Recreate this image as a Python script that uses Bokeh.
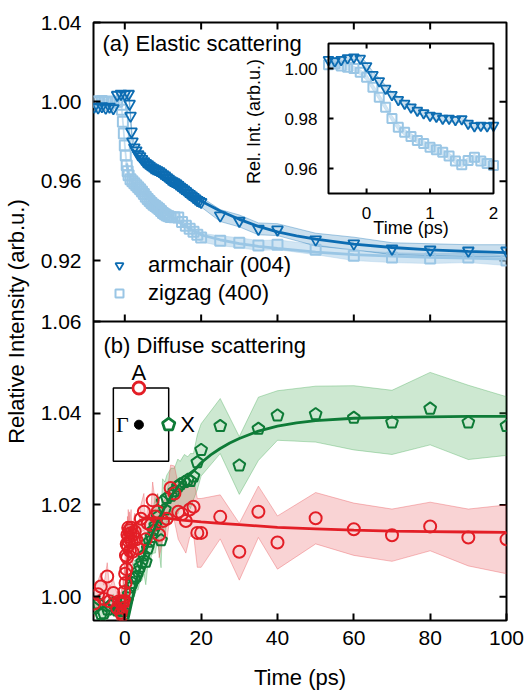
import math
from bokeh.plotting import figure
from bokeh.models import Range1d, LinearAxis, FixedTicker, Span, Legend, LegendItem
from bokeh.core.properties import value
from bokeh.embed import file_html
from bokeh.resources import INLINE

# ---------------- data ----------------
tick_x = [0, 20, 40, 60, 80, 100]
tick_top = [0.92, 0.96, 1.00, 1.04]
tick_bot = [1.00, 1.02, 1.04, 1.06]

# (a) elastic scattering, armchair (004)
arm_t = [-8, -7, -6, -5, -4, -3, -2, -1, 0, 1,
         1.25, 1.5, 1.75,
         2, 2.5, 3, 3.5, 4, 4.5, 5, 5.5, 6, 6.5, 7, 7.5, 8, 8.5, 9, 9.5, 10, 10.5, 11, 11.5,
         12, 12.5, 13, 13.5, 14, 14.5, 15, 15.5, 16, 16.5, 17, 17.5, 18, 18.5, 19, 19.5, 20,
         25, 30, 35, 40, 50, 60, 70, 80, 90, 100]
arm_v = [0.9975, 0.9972, 0.9978, 0.9970, 0.9975, 0.9968, 1.0035, 1.0040, 1.0038, 1.0040,
         0.9990, 0.9930, 0.9850,
         0.9800, 0.9770, 0.9755, 0.9735, 0.9725, 0.9712, 0.9700, 0.9692, 0.9685, 0.9678,
         0.9670, 0.9665, 0.9660, 0.9655, 0.9650, 0.9642, 0.9635, 0.9628, 0.9620, 0.9612,
         0.9605, 0.9600, 0.9595, 0.9588, 0.9580, 0.9572, 0.9565, 0.9558, 0.9550, 0.9542,
         0.9535, 0.9528, 0.9520, 0.9512, 0.9505, 0.9500, 0.9495,
         0.9427, 0.9400, 0.9360, 0.9356, 0.9306, 0.9286, 0.9260, 0.9255, 0.9250, 0.9250]
arm_e = [0.0015, 0.0015, 0.0015, 0.0015, 0.0015, 0.0015, 0.0015, 0.0015, 0.0015, 0.0015,
         0.0020, 0.0020, 0.0020,
         0.0025, 0.0025, 0.0025, 0.0025, 0.0025, 0.0025, 0.0025, 0.0025, 0.0025, 0.0025,
         0.0025, 0.0025, 0.0025, 0.0025, 0.0025, 0.0025, 0.0025, 0.0025, 0.0025, 0.0025,
         0.0025, 0.0025, 0.0025, 0.0025, 0.0025, 0.0025, 0.0025, 0.0025, 0.0025, 0.0025,
         0.0025, 0.0025, 0.0025, 0.0025, 0.0025, 0.0025, 0.0025,
         0.0030, 0.0030, 0.0030, 0.0030, 0.0032, 0.0032, 0.0030, 0.0030, 0.0030, 0.0030]
# (a) zigzag (400)
zig_t = [-8, -7, -6, -5, -4, -3, -2, -1,
         -0.75, -0.5, -0.25, 0, 0.25, 0.5, 0.75, 1,
         1.5, 2, 2.5, 3, 3.5, 4, 4.5, 5, 5.5, 6, 6.5, 7, 7.5, 8, 8.5, 9, 9.5, 10, 10.5, 11,
         11.5, 12,
         13, 14, 15, 16, 17, 18, 19, 20,
         25, 30, 35, 40, 50, 60, 70, 80, 90, 100]
zig_v = [1.0003, 0.9998, 1.0004, 0.9999, 1.0002, 0.9997, 1.0001, 0.9985,
         0.9960, 0.9900, 0.9840, 0.9780, 0.9730, 0.9680, 0.9650, 0.9630,
         0.9610, 0.9600, 0.9590, 0.9580, 0.9570, 0.9560, 0.9548, 0.9535, 0.9522, 0.9510,
         0.9500, 0.9490, 0.9482, 0.9475, 0.9468, 0.9460, 0.9450, 0.9440, 0.9433, 0.9427,
         0.9424, 0.9420,
         0.9418, 0.9417, 0.9395, 0.9376, 0.9360, 0.9345, 0.9330, 0.9316,
         0.9300, 0.9290, 0.9276, 0.9280, 0.9255, 0.9225, 0.9215, 0.9210, 0.9215, 0.9200]
zig_e = [0.0015, 0.0015, 0.0015, 0.0015, 0.0015, 0.0015, 0.0015, 0.0015,
         0.0030, 0.0030, 0.0030, 0.0030, 0.0030, 0.0030, 0.0030, 0.0030,
         0.0022, 0.0022, 0.0022, 0.0022, 0.0022, 0.0022, 0.0022, 0.0022, 0.0022, 0.0022,
         0.0022, 0.0022, 0.0022, 0.0022, 0.0022, 0.0022, 0.0022, 0.0022, 0.0022, 0.0022,
         0.0022, 0.0022,
         0.0022, 0.0022, 0.0022, 0.0022, 0.0022, 0.0022, 0.0022, 0.0022,
         0.0025, 0.0025, 0.0025, 0.0025, 0.0025, 0.0025, 0.0025, 0.0025, 0.0025, 0.0025]
arm_fit_t = [2, 3, 4, 5, 6, 8, 10, 12, 14, 16, 18, 20, 25, 30, 35, 40, 45, 50, 60, 70, 80, 90, 100]
arm_fit_v = [0.9760, 0.9735, 0.9712, 0.9692, 0.9675, 0.9645, 0.9617, 0.9590, 0.9565, 0.9542,
             0.9520, 0.9500, 0.9450, 0.9408, 0.9372, 0.9345, 0.9325, 0.9308, 0.9283, 0.9266,
             0.9254, 0.9246, 0.9240]
zig_fit_t = [0.5, 1, 2, 4, 6, 8, 10, 12, 14, 16, 18, 20, 25, 30, 35, 40, 50, 60, 70, 80, 90, 100]
zig_fit_v = [0.9690, 0.9630, 0.9595, 0.9555, 0.9515, 0.9480, 0.9450, 0.9425, 0.9396, 0.9372,
             0.9350, 0.9330, 0.9305, 0.9286, 0.9272, 0.9262, 0.9243, 0.9230, 0.9222, 0.9216,
             0.9212, 0.9208]

# inset of (a)
ins_t = [-0.6, -0.5, -0.4, -0.3, -0.2, -0.1, 0.0, 0.1, 0.2, 0.3, 0.4, 0.5, 0.6, 0.7,
         0.8, 0.9, 1.0, 1.1, 1.2, 1.3, 1.4, 1.5, 1.6, 1.7, 1.8, 1.9, 2.0]
ins_arm = [1.0035, 1.0030, 1.0035, 1.0042, 1.0045, 1.0040, 1.0010, 0.9975, 0.9950, 0.9920,
           0.9895, 0.9875, 0.9860, 0.9845, 0.9832, 0.9822, 0.9812, 0.9808, 0.9800, 0.9800,
           0.9795, 0.9798, 0.9780, 0.9770, 0.9772, 0.9770, 0.9772]
ins_zig = [1.0015, 1.0018, 1.0010, 1.0005, 1.0000, 0.9985, 0.9965, 0.9925, 0.9885, 0.9845,
           0.9800, 0.9765, 0.9745, 0.9728, 0.9712, 0.9700, 0.9685, 0.9675, 0.9665, 0.9650,
           0.9630, 0.9615, 0.9632, 0.9645, 0.9630, 0.9620, 0.9612]
ins_err = [0.0010, 0.0010, 0.0010, 0.0010, 0.0010, 0.0010, 0.0012, 0.0012, 0.0012, 0.0012,
           0.0012, 0.0012, 0.0012, 0.0012, 0.0012, 0.0012, 0.0012, 0.0012, 0.0012, 0.0012,
           0.0012, 0.0012, 0.0012, 0.0012, 0.0012, 0.0012, 0.0012]
ins_xticks = [0, 1, 2]
ins_yticks = [0.96, 0.98, 1.00]

# (b) diffuse scattering, A point (red)
red_t = [-8, -7, -6.3, -5.5, -4.6, -4, -3, -2, -1.5, -1,
         -0.8, -0.6, -0.45, -0.3, -0.15, 0, 0.1, 0.2, 0.3, 0.4,
         0.5, 0.6, 0.7, 0.8, 0.9, 1.0, 1.1, 1.2, 1.35, 1.5,
         1.65, 1.8, 2.0, 2.2, 2.6, 3.0, 3.5, 4.2, 5.0, 5.5,
         6.0, 6.8, 7.3, 8.0, 8.6, 9.0, 10.0, 11.0, 12.0, 13.0,
         14.0, 15.0, 16.0, 17.0, 18.0, 19.0, 20.0,
         25, 30, 35, 40, 50, 60, 70, 80, 90, 100]
red_v = [0.9985, 1.0005, 1.0022, 0.9995, 1.0044, 0.9990, 1.0008, 0.9975, 0.9990, 0.9965,
         0.9985, 0.9960, 0.9990, 0.9975, 1.0010, 0.9990, 1.0050, 1.0030, 1.0090, 1.0060,
         1.0115, 1.0085, 1.0135, 1.0110, 1.0150, 1.0130, 1.0120, 1.0145, 1.0100, 1.0138,
         1.0150, 1.0120, 1.0098, 1.0135, 1.0142, 1.0125, 1.0105, 1.0170, 1.0185, 1.0125,
         1.0160, 1.0156, 1.0210, 1.0175, 1.0185, 1.0135, 1.0165, 1.0170, 1.0237, 1.0225,
         1.0185, 1.0180, 1.0165, 1.0190, 1.0196, 1.0139, 1.0139,
         1.0174, 1.0098, 1.0185, 1.0118, 1.0171, 1.0147, 1.0134, 1.0153, 1.0129, 1.0125]
red_e = [0.003, 0.003, 0.003, 0.003, 0.003, 0.003, 0.003, 0.003, 0.003, 0.003,
         0.004, 0.004, 0.005, 0.005, 0.006, 0.006, 0.006, 0.006, 0.005, 0.005,
         0.005, 0.005, 0.004, 0.004, 0.004, 0.004, 0.004, 0.004, 0.004, 0.004,
         0.004, 0.004, 0.003, 0.003, 0.004, 0.003, 0.004, 0.003, 0.004, 0.003,
         0.004, 0.003, 0.004, 0.003, 0.004, 0.005, 0.004, 0.005, 0.005, 0.006,
         0.006, 0.007, 0.007, 0.006, 0.006, 0.0075, 0.0075,
         0.0048, 0.0062, 0.0056, 0.0058, 0.0056, 0.0057, 0.0057, 0.0053, 0.0062, 0.0075]
# (b) X point (green)
grn_t = [-8, -7, -6.2, -5.5, -4.5, -3.7, -3, -2, -1, -0.5,
         0, 0.5, 1.0, 1.5, 2.0, 2.5, 3.0, 3.5, 4.0, 4.5,
         5.0, 5.5, 6.0, 6.5, 7.0, 7.5, 8.0, 8.6, 9.5, 9.9,
         10.5, 11.0, 12.1, 13.0, 13.9, 14.5, 15.6, 16.5, 17.2, 18.0,
         19.0, 20.0,
         25, 30, 35, 40, 50, 60, 70, 80, 90, 100]
grn_v = [0.9975, 0.9985, 0.9962, 0.9964, 0.9972, 0.9980, 0.9985, 0.9970, 0.9975, 0.9968,
         0.9975, 0.9990, 1.0005, 1.0020, 1.0030, 1.0040, 1.0044, 1.0055, 1.0065, 1.0075,
         1.0090, 1.0076, 1.0105, 1.0120, 1.0130, 1.0145, 1.0155, 1.0174, 1.0123, 1.0207,
         1.0190, 1.0215, 1.0220, 1.0230, 1.0240, 1.0245, 1.0250, 1.0255, 1.0252, 1.0262,
         1.0293, 1.0320,
         1.0372, 1.0286, 1.0366, 1.0395, 1.0398, 1.0390, 1.0380, 1.0410, 1.0380, 1.0372]
grn_e = [0.002, 0.002, 0.002, 0.002, 0.002, 0.002, 0.002, 0.002, 0.002, 0.002,
         0.003, 0.003, 0.003, 0.003, 0.003, 0.004, 0.003, 0.004, 0.003, 0.004,
         0.004, 0.005, 0.004, 0.005, 0.004, 0.005, 0.006, 0.005, 0.006, 0.005,
         0.006, 0.005, 0.006, 0.005, 0.006, 0.005, 0.006, 0.005, 0.006, 0.005,
         0.006, 0.0057,
         0.0060, 0.0063, 0.0069, 0.0054, 0.0061, 0.0070, 0.0070, 0.0079, 0.0081, 0.0064]
grn_fit_t = [0.8, 2, 3, 4, 5, 6, 7, 8, 10, 12, 14, 16, 18, 20, 22.5, 25, 27.5, 30, 35, 40,
             45, 50, 60, 70, 80, 90, 100]
grn_fit_v = [0.9950, 0.9995, 1.0035, 1.0062, 1.0088, 1.0112, 1.0134, 1.0153, 1.0188, 1.0217,
             1.0241, 1.0259, 1.0274, 1.0292, 1.0309, 1.0323, 1.0335, 1.0345, 1.0361, 1.0372,
             1.0379, 1.0384, 1.0389, 1.0391, 1.0392, 1.0393, 1.0393]
red_fit_t = [-0.2, 0.3, 0.7, 1.1, 1.5, 2, 3, 4, 5, 7, 10, 12, 15, 20, 25, 30, 40, 50, 60,
             70, 80, 90, 100]
red_fit_v = [0.9950, 1.0022, 1.0075, 1.0110, 1.0132, 1.0148, 1.0160, 1.0166, 1.0169, 1.0171,
             1.0171, 1.0170, 1.0167, 1.0163, 1.0160, 1.0157, 1.0151, 1.0148, 1.0145, 1.0143,
             1.0142, 1.0141, 1.0140]

# Brillouin-zone sketch in panel (b) (data coordinates of panel b)
bz_box = [-3.0, 11.5, 1.0295, 1.0455]      # left, right, bottom, top
bz_gamma = [3.7, 1.0375]
bz_A = [3.7, 1.0455]
bz_X = [11.5, 1.0375]

# ---------------- geometry & styles ----------------
FONT = "Liberation Sans"
DARK = "#0c6cb2"
LIGHT = "#9ac6e5"
GREEN = "#0e7b37"
RED = "#e31e26"

X0, X1 = -8.2, 100.0
TOP0, TOP1 = 0.8893, 1.04
BOT0, BOT1 = 0.9948, 1.06
FW, FH = 413, 598
SPLIT = 0.5
P0 = BOT0
P1 = BOT0 + (BOT1 - BOT0) / SPLIT
T1 = TOP1
T0 = TOP1 - (TOP1 - TOP0) / SPLIT

INS_X = (-0.6, 2.0)
INS_Y = (0.95, 1.01)
INS_L, INS_R, INS_T, INS_B = 235, 400, 21, 171   # inset box in frame pixels
ippx = (INS_R - INS_L) / (INS_X[1] - INS_X[0])
ix0 = INS_X[0] - INS_L / ippx
ix1 = ix0 + FW / ippx
ippy = (INS_B - INS_T) / (INS_Y[1] - INS_Y[0])
iy1 = INS_Y[1] + INS_T / ippy
iy0 = iy1 - FH / ippy

TICK = 7


def top_to_primary(v):
    return round(P0 + (v - T0) * (P1 - P0) / (T1 - T0), 9)


p = figure(frame_width=FW, frame_height=FH, x_range=Range1d(X0, X1), y_range=Range1d(P0, P1),
           output_backend="svg", toolbar_location=None,
           x_axis_location=None, y_axis_location=None,
           min_border_left=85, min_border_right=18, min_border_top=22, min_border_bottom=69)
p.extra_y_ranges = {"top": Range1d(T0, T1), "iy": Range1d(iy0, iy1)}
p.extra_x_ranges = {"ix": Range1d(ix0, ix1)}
p.xgrid.visible = False
p.ygrid.visible = False
p.outline_line_color = "black"
p.outline_line_width = 2
p.background_fill_color = "white"
p.border_fill_color = "white"


def style_axis(ax):
    ax.axis_line_color = None
    ax.major_tick_in = TICK
    ax.major_tick_out = 0
    ax.major_tick_line_width = 2
    ax.major_tick_line_color = "black"
    ax.minor_tick_line_color = None
    ax.major_label_text_font = FONT
    ax.major_label_text_color = "black"
    ax.major_label_text_font_size = "21px"
    ax.axis_label_text_font = FONT
    ax.axis_label_text_font_size = "22px"
    ax.axis_label_text_font_style = "normal"
    ax.axis_label_text_color = "black"


left_ticks = list(tick_bot) + [top_to_primary(v) for v in tick_top]
overrides = {v: f"{v:.2f}" for v in tick_bot}
overrides.update({top_to_primary(v): f"{v:.2f}" for v in tick_top})
left = LinearAxis(ticker=FixedTicker(ticks=left_ticks), major_label_overrides=overrides,
                  axis_label="Relative Intensity (arb.u.)")
style_axis(left)
left.major_label_standoff = 12
left.axis_label_standoff = 9
p.add_layout(left, "left")

below = LinearAxis(ticker=FixedTicker(ticks=tick_x), axis_label="Time (ps)")
style_axis(below)
below.major_label_standoff = 10
below.axis_label_standoff = 17
p.add_layout(below, "below")

# inward ticks on the right, on top and on the panel boundary
p.ray(x=[X1] * (len(tick_bot) - 1), y=tick_bot[:-1], length=TICK, length_units="screen",
      angle=math.pi, line_color="black", line_width=2)
p.ray(x=[X1] * (len(tick_top) - 1), y=tick_top[:-1], length=TICK, length_units="screen",
      angle=math.pi, line_color="black", line_width=2, y_range_name="top")
p.ray(x=tick_x[:-1], y=[T1] * (len(tick_x) - 1), length=TICK, length_units="screen",
      angle=-math.pi / 2, line_color="black", line_width=2, y_range_name="top")
p.add_layout(Span(location=BOT1, dimension="width", line_color="black", line_width=2))
p.ray(x=tick_x[:-1], y=[BOT1] * (len(tick_x) - 1), length=TICK, length_units="screen",
      angle=math.pi / 2, line_color="black", line_width=2)


def band(t, v, e, color, alpha, yr="default", xr="default", edge_alpha=0.35):
    lo = [a - b for a, b in zip(v, e)]
    hi = [a + b for a, b in zip(v, e)]
    p.varea(x=t, y1=lo, y2=hi, fill_color=color, fill_alpha=alpha,
            x_range_name=xr, y_range_name=yr)
    p.line(t, lo, line_color=color, line_alpha=edge_alpha, line_width=1,
           x_range_name=xr, y_range_name=yr)
    p.line(t, hi, line_color=color, line_alpha=edge_alpha, line_width=1,
           x_range_name=xr, y_range_name=yr)


# ---------- panel (a) ----------
band(zig_t, zig_v, zig_e, LIGHT, 0.45, yr="top")
band(arm_t, arm_v, arm_e, DARK, 0.22, yr="top")
r_zig = p.scatter(zig_t, zig_v, marker="square", size=10, fill_color=None,
                  line_color=LIGHT, line_width=2, y_range_name="top")
p.line(zig_fit_t, zig_fit_v, line_color=LIGHT, line_width=2.8, y_range_name="top")
r_arm = p.scatter(arm_t, arm_v, marker="inverted_triangle", size=11, fill_color=None,
                  line_color=DARK, line_width=1.8, y_range_name="top")
p.line(arm_fit_t, arm_fit_v, line_color=DARK, line_width=2.8, y_range_name="top")

p.text(x=[X0], y=[T1], text=["(a) Elastic scattering"], y_range_name="top",
       x_offset=9, y_offset=21, text_font=value(FONT), text_font_size="22px",
       text_align="left", text_baseline="middle", text_color="black")

legend = Legend(items=[LegendItem(label="armchair (004)", renderers=[r_arm]),
                       LegendItem(label="zigzag (400)", renderers=[r_zig])],
                location=(16, 313), orientation="vertical", glyph_width=20, glyph_height=20,
                label_height=28, spacing=0, padding=0, margin=0, label_standoff=19,
                border_line_color=None, background_fill_alpha=0,
                label_text_font=FONT, label_text_font_size="22px", label_text_color="black")
p.add_layout(legend)

# ---------- inset ----------
p.quad(left=[INS_X[0]], right=[INS_X[1]], bottom=[INS_Y[0]], top=[INS_Y[1]],
       fill_color="white", line_color=None, x_range_name="ix", y_range_name="iy")
band(ins_t, ins_zig, ins_err, LIGHT, 0.45, yr="iy", xr="ix")
band(ins_t, ins_arm, ins_err, DARK, 0.22, yr="iy", xr="ix")
p.scatter(ins_t, ins_zig, marker="square", size=9, fill_color=None, line_color=LIGHT,
          line_width=2, x_range_name="ix", y_range_name="iy")
p.scatter(ins_t, ins_arm, marker="inverted_triangle", size=10, fill_color=None,
          line_color=DARK, line_width=1.8, x_range_name="ix", y_range_name="iy")
p.quad(left=[INS_X[0]], right=[INS_X[1]], bottom=[INS_Y[0]], top=[INS_Y[1]],
       fill_color=None, line_color="black", line_width=2, x_range_name="ix", y_range_name="iy")
ixt = ins_xticks[:-1]
p.ray(x=ixt, y=[INS_Y[0]] * len(ixt), length=5, length_units="screen", angle=math.pi / 2,
      line_color="black", line_width=2, x_range_name="ix", y_range_name="iy")
p.ray(x=ixt, y=[INS_Y[1]] * len(ixt), length=5, length_units="screen", angle=-math.pi / 2,
      line_color="black", line_width=2, x_range_name="ix", y_range_name="iy")
p.ray(x=[INS_X[0]] * len(ins_yticks), y=ins_yticks, length=5, length_units="screen", angle=0,
      line_color="black", line_width=2, x_range_name="ix", y_range_name="iy")
p.ray(x=[INS_X[1]] * len(ins_yticks), y=ins_yticks, length=5, length_units="screen",
      angle=math.pi, line_color="black", line_width=2, x_range_name="ix", y_range_name="iy")
p.text(x=ins_xticks, y=[INS_Y[0]] * len(ins_xticks), text=[str(v) for v in ins_xticks],
       y_offset=19, text_font=value(FONT), text_font_size="17px", text_align="center",
       text_baseline="middle", text_color="black", x_range_name="ix", y_range_name="iy")
p.text(x=[INS_X[0]] * len(ins_yticks), y=ins_yticks, text=[f"{v:.2f}" for v in ins_yticks],
       x_offset=-11, text_font=value(FONT), text_font_size="17px", text_align="right",
       text_baseline="middle", text_color="black", x_range_name="ix", y_range_name="iy")
p.text(x=[(INS_X[0] + INS_X[1]) / 2], y=[INS_Y[0]], text=["Time (ps)"], y_offset=34,
       text_font=value(FONT), text_font_size="18px", text_align="center",
       text_baseline="middle", text_color="black", x_range_name="ix", y_range_name="iy")
p.text(x=[INS_X[0]], y=[(INS_Y[0] + INS_Y[1]) / 2], text=["Rel. Int. (arb.u.)"],
       x_offset=-75, y_offset=3, angle=math.pi / 2, text_font=value(FONT),
       text_font_size="18px", text_align="center", text_baseline="middle",
       text_color="black", x_range_name="ix", y_range_name="iy")

# ---------- panel (b) ----------
ppx = FW / (X1 - X0)
ppy = FH / (P1 - P0)


def pentagons(t, v, r_px):
    xs, ys = [], []
    for a, b in zip(t, v):
        xs.append([a + r_px * math.cos(math.pi / 2 + k * 2 * math.pi / 5) / ppx for k in range(5)])
        ys.append([b + r_px * math.sin(math.pi / 2 + k * 2 * math.pi / 5) / ppy for k in range(5)])
    return xs, ys


band(grn_t, grn_v, grn_e, "#3da64e", 0.26)
band(red_t, red_v, red_e, "#e8474d", 0.24)
gx, gy = pentagons(grn_t, grn_v, 6.2)
p.patches(gx, gy, fill_color=None, line_color=GREEN, line_width=2)
p.scatter(red_t, red_v, marker="circle", size=12, fill_color=None, line_color=RED, line_width=2)
p.line(grn_fit_t, grn_fit_v, line_color=GREEN, line_width=2.8)
p.line(red_fit_t, red_fit_v, line_color=RED, line_width=2.8)

p.text(x=[X0], y=[BOT1], text=["(b) Diffuse scattering"], x_offset=10, y_offset=24,
       text_font=value(FONT), text_font_size="22px", text_align="left",
       text_baseline="middle", text_color="black")

# Brillouin-zone sketch
p.quad(left=[bz_box[0]], right=[bz_box[1]], bottom=[bz_box[2]], top=[bz_box[3]],
       fill_color=None, line_color="black", line_width=1.5)
p.scatter([bz_gamma[0]], [bz_gamma[1]], marker="circle", size=9, fill_color="black",
          line_color="black")
p.scatter([bz_A[0]], [bz_A[1]], marker="circle", size=12, fill_color="white",
          line_color=RED, line_width=2.8)
bx, by = pentagons([bz_X[0]], [bz_X[1]], 6.5)
p.patches(bx, by, fill_color="white", line_color=GREEN, line_width=2.8)
p.text(x=[bz_A[0]], y=[bz_A[1]], text=["A"], y_offset=-15, text_font=value(FONT),
       text_font_size="22px", text_align="center", text_baseline="middle", text_color="black")
p.text(x=[bz_box[0]], y=[bz_gamma[1]], text=["Γ"], x_offset=9, text_font=value("Liberation Serif"),
       text_font_size="22px", text_align="center", text_baseline="middle", text_color="black")
p.text(x=[bz_X[0]], y=[bz_X[1]], text=["X"], x_offset=19, text_font=value(FONT),
       text_font_size="22px", text_align="center", text_baseline="middle", text_color="black")

open("out.html", "w").write(file_html(p, INLINE))
